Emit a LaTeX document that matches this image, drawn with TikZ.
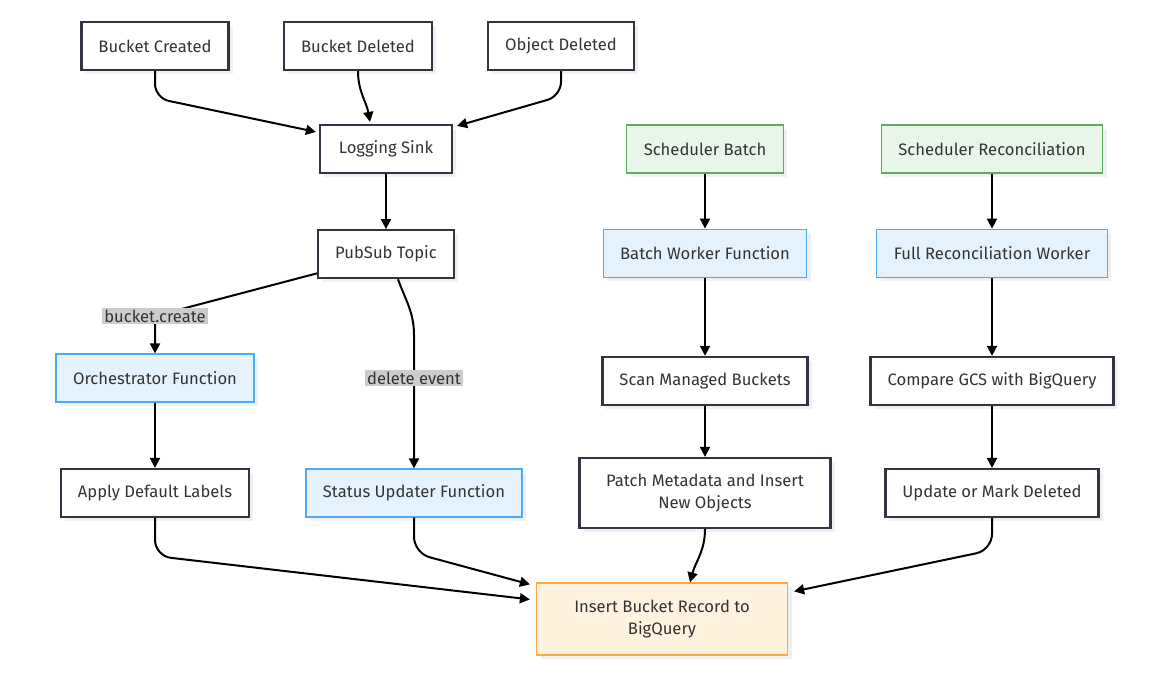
\documentclass[tikz,border=0pt]{standalone}
\usepackage{fontspec}
\setmainfont{Fira Sans}
\usetikzlibrary{arrows.meta, graphs, positioning, quotes, shadows}

\definecolor{ink}{HTML}{333344}
\definecolor{txt}{HTML}{333333}
\definecolor{greenfill}{HTML}{E8F5E9}
\definecolor{greenline}{HTML}{5CAD5F}
\definecolor{bluefill}{HTML}{E3F2FD}
\definecolor{blueline}{HTML}{4DAAF5}
\definecolor{orangefill}{HTML}{FFF3E0}
\definecolor{orangeline}{HTML}{FFA940}
\definecolor{labelgray}{HTML}{CCCCCC}

\tikzset{
  box/.style={draw=ink, fill=white, line width=2.2pt, text=txt, minimum height=48,
    inner xsep=17, align=center, font=\fontsize{16.6}{22}\selectfont,
    drop shadow={shadow xshift=4pt, shadow yshift=-4pt, opacity=0.12}},
  schedbox/.style={box, draw=greenline, fill=greenfill, line width=1.2pt},
  funcbox/.style={box, draw=blueline, fill=bluefill, line width=1.2pt},
  sinkbox/.style={box, draw=orangeline, fill=orangefill, line width=1.2pt},
  edgelabel/.style={fill=labelgray, text=txt, inner sep=2pt, font=\fontsize{16.6}{19}\selectfont},
  >={Triangle[length=10pt, width=10pt]},
}

\begin{document}
\begin{tikzpicture}[x=1pt, y=-1pt, line width=2pt]
		\useasboundingbox (0,0) rectangle (1155,672);

		% event sources
		\node[box]                          (bucket created)  at (155,46)  {Bucket Created};
		\node[box]                          (bucket deleted)  at (358,46)  {Bucket Deleted};
		\node[box]                          (object deleted)  at (561,46)  {Object Deleted};
		\node[box, minimum width=132]       (logging sink)    at (386,149) {Logging Sink};
		\node[box, minimum width=132, below=55pt of logging sink] (pubsub) {PubSub Topic};

		% schedulers
		\node[schedbox]                     (sched batch)     at (705,149) {Scheduler Batch};
		\node[schedbox]                     (sched recon)     at (992,149) {Scheduler Reconciliation};
		\node[funcbox, below=55pt of sched batch]   (batch worker)  {Batch Worker Function};
		\node[funcbox, below=55pt of sched recon]   (recon worker)  {Full Reconciliation Worker};
		\node[box, below=78pt of batch worker]      (scan)          {Scan Managed Buckets};
		\node[box, below=78pt of recon worker]      (compare)       {Compare GCS with BigQuery};
		\node[box, minimum width=251, minimum height=70] (patch) at (705,493) {Patch Metadata and Insert\\New Objects};
		\node[box]                          (update)          at (992,493) {Update or Mark Deleted};

		% left branch
		\node[funcbox]                      (orchestrator)    at (155,378) {Orchestrator Function};
		\node[box]                          (apply labels)    at (155,493) {Apply Default Labels};
		\node[funcbox]                      (status updater)  at (414,493) {Status Updater Function};

		\node[sinkbox, minimum width=251, minimum height=72] (insert) at (662,619) {Insert Bucket Record to\\BigQuery};

		\graph{
			(logging sink) -> (pubsub);
			(sched batch) -> (batch worker) -> (scan) -> (patch);
			(sched recon) -> (recon worker) -> (compare) -> (update);
			(orchestrator) -> (apply labels);
		};

		\draw[->, rounded corners=14pt] (bucket created.south) -- (155,98) -- ([xshift=-3pt,yshift=-8pt]logging sink.north west);
		\draw[->] (bucket deleted.south) to[out=-90, in=100] ([xshift=-16pt,yshift=2pt]logging sink.north);
		\draw[->, rounded corners=14pt] (object deleted.south) -- (561,96) -- ([xshift=4pt,yshift=-2pt]logging sink.north east);

		\draw[->] ([yshift=6pt]pubsub.south west) -- (155,316) node[edgelabel] (create label) {bucket.create} -- (orchestrator.north);
		\draw[->] ([xshift=12pt]pubsub.south) to[out=-70, in=90] (414,335) -- (status updater.north);
		\node[edgelabel] (delete label) at (414,378) {delete event};

		\draw[->, rounded corners=16pt] (apply labels.south) -- (155,556) -- ([xshift=-6pt,yshift=-17pt]insert.north west);
		\draw[->, rounded corners=16pt] (status updater.south) -- (414,553) -- ([xshift=-6pt,yshift=-2pt]insert.north west);
		\draw[->] (patch.south) to[out=-90, in=75] ([xshift=28pt]insert.north);
		\draw[->, rounded corners=16pt] (update.south) -- (992,550) -- ([xshift=6pt,yshift=-9pt]insert.north east);
	\end{tikzpicture}
\end{document}
